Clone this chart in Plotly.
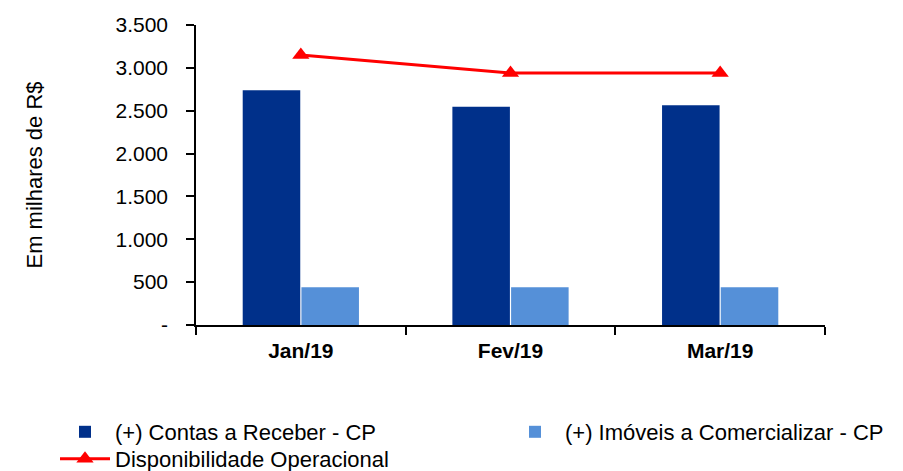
import plotly.graph_objects as go

categories = ["Jan/19", "Fev/19", "Mar/19"]
contas_receber = [2740, 2545, 2565]
imoveis = [440, 440, 440]
disponibilidade = [3150, 2940, 2940]

y_tickvals = [0, 500, 1000, 1500, 2000, 2500, 3000, 3500]
y_ticktext = ["-", "500", "1.000", "1.500", "2.000", "2.500", "3.000", "3.500"]

# page body has an 8px margin, so the figure is laid out 8px up-left
OFF = 8
L, T, PW, PH = 196 - OFF, 25 - OFF, 629, 300
W, H = 903, 471
R, B = W - L - PW, H - T - PH

def px_x(p):  # window pixel -> paper x
    return (p - OFF - L) / PW

def px_y(p):  # window pixel -> paper y
    return (T + PH - (p - OFF)) / PH

legend_font = dict(family="Liberation Sans, Arial, sans-serif", size=22, color="#000000")

fig = go.Figure()
fig.add_trace(go.Bar(x=categories, y=contas_receber, name="(+) Contas a Receber - CP",
                     marker=dict(color="#00308A", line=dict(width=0)), legend="legend"))
fig.add_trace(go.Bar(x=categories, y=imoveis, name="(+) Imóveis a Comercializar - CP",
                     marker=dict(color="#5590D8", line=dict(width=0)), legend="legend2"))
fig.add_trace(go.Scatter(x=categories, y=disponibilidade, name="Disponibilidade Operacional",
                         mode="lines+markers",
                         line=dict(color="#FF0000", width=3),
                         marker=dict(symbol="triangle-up", size=15, color="#FF0000"),
                         legend="legend3"))

common_leg = dict(orientation="v", xanchor="left", yanchor="middle",
                  font=legend_font, itemwidth=50, borderwidth=0, bgcolor="rgba(0,0,0,0)")

fig.update_layout(
    width=W, height=H,
    margin=dict(l=L, r=R, t=T, b=B, autoexpand=False),
    paper_bgcolor="white", plot_bgcolor="white",
    barmode="group", bargap=0.44, bargroupgap=0.02,
    font=dict(family="Liberation Sans, Arial, sans-serif", size=21, color="#000000"),
    showlegend=True,
    legend=dict(x=px_x(55), y=px_y(432), **common_leg),
    legend2=dict(x=px_x(505), y=px_y(432), **common_leg),
    legend3=dict(x=px_x(55), y=px_y(459), **common_leg),
)
fig.update_xaxes(showline=True, linecolor="#000000", linewidth=1.5,
                 ticks="outside", tickcolor="#000000", ticklen=8, tickwidth=1.5,
                 tickson="boundaries", ticklabelstandoff=6,
                 tickfont=dict(family="Liberation Sans, Arial, sans-serif", size=21, weight="bold"),
                 showgrid=False)
fig.update_yaxes(range=[0, 3500], tickvals=y_tickvals, ticktext=y_ticktext,
                 showline=True, linecolor="#000000", linewidth=1.5,
                 ticks="outside", tickcolor="#000000", ticklen=8, tickwidth=1.5,
                 ticklabelstandoff=14,
                 showgrid=False, zeroline=False,
                 title=dict(text="Em milhares de R$", standoff=67,
                            font=dict(size=22)),
                 tickfont=dict(size=21))

fig.write_html("out.html")
